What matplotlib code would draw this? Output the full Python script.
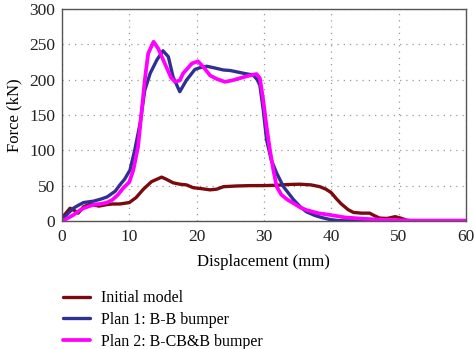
import matplotlib
matplotlib.use('Agg')
import matplotlib.pyplot as plt

# ---- 读图数据 (位移 mm, 力 kN) ----
init_x = [0, 0.5, 1.2, 1.8, 2.4, 3.2, 4, 4.5, 5.5, 6.6, 7.5, 8.6, 10, 11,
          12.1, 13.3, 14.8, 15.5, 16.5, 17.5, 18.5, 19.5, 20.5, 22, 23, 24,
          26, 28, 30, 32, 33.5, 35.3, 37, 38.3, 39.2, 40, 40.8, 41.5, 42.5,
          43.3, 44.5, 45.7, 46.5, 47.2, 48.3, 49.5, 50.3, 51.2, 52, 60]
init_f = [4, 10, 18, 15, 11, 20, 23, 23, 21, 23, 24, 24, 26, 33,
          45, 55.6, 62, 59, 54, 52, 51, 47, 46, 44, 45, 48.5,
          49.5, 50, 50, 50.5, 51.5, 52, 51, 48.5, 45, 40, 31, 24, 16,
          12, 11, 11, 7, 4, 3.5, 6, 4, 1, 0, 0]

plan1_x = [0, 0.5, 1.7, 2.4, 3.2, 4.7, 5.8, 6.7, 7.9, 8.6, 9.3, 10.1, 10.8,
           11.6, 12.3, 13.1, 14.1, 15.0, 15.8, 16.5, 17.5, 18.5, 19.75, 20.5,
           21.5, 22.5, 24, 25, 26, 27, 28.4, 29, 29.4, 29.9, 30.4, 31.1, 31.9,
           32.9, 34.4, 35.4, 36.3, 37.5, 38.5, 39.8, 41, 42, 60]
plan1_f = [3, 7, 18, 22, 26, 28, 31, 34, 42, 51, 59, 72, 100,
           138, 185, 209, 228, 241, 232.5, 204, 183, 199.5, 214.6, 217,
           219, 217, 213.7, 213, 211, 209, 206.6, 200, 192, 157, 114.6, 86, 67.5,
           48.5, 30, 20, 13, 8, 5, 2, 0.5, 0.2, 0]

plan2_x = [0, 0.5, 1.7, 2.5, 3.2, 4.7, 5.7, 6.7, 7.5, 8.3, 9.1, 10, 10.6,
           11.3, 11.8, 12.3, 12.8, 13.6, 14.3, 15.5, 16.2, 16.8, 17.5, 18.0,
           19.3, 20.2, 21, 22, 23, 24.2, 25.3, 26.4, 27.5, 28.9, 29.4, 29.9,
           30.4, 30.9, 31.4, 31.9, 32.6, 33.5, 34.4, 35.4, 36.3, 38, 39.8, 42,
           44.8, 47, 50, 52, 60]
plan2_f = [0, 2, 8.5, 14, 18, 23, 24, 26, 30, 37, 46.5, 55, 72,
           105, 152, 199.5, 237, 253.7, 244, 218, 203, 197, 199, 209,
           223, 226, 218, 206, 201, 197, 199, 202, 205, 208, 202, 171,
           133, 100, 72, 48.5, 37, 30, 25, 19, 15.5, 11, 8.5, 5,
           3, 2, 1, 0.5, 0.5]

X_TICKS = [0, 10, 20, 30, 40, 50, 60]
Y_TICKS = [0, 50, 100, 150, 200, 250, 300]

plt.rcParams['font.family'] = ['Liberation Serif', 'DejaVu Serif']
plt.rcParams['font.size'] = 12.5

fig = plt.figure(figsize=(4.74, 3.49), dpi=100)
ax = fig.add_axes([0.1308, 0.367, 0.852, 0.607])

ax.plot(init_x, init_f, color='#7a0a0e', lw=2.4, solid_joinstyle='round',
        solid_capstyle='round', label='Initial model')
ax.plot(plan1_x, plan1_f, color='#2e3192', lw=2.4, solid_joinstyle='round',
        solid_capstyle='round', label='Plan 1: B-B bumper')
ax.plot(plan2_x, plan2_f, color='#ff00ff', lw=2.7, solid_joinstyle='round',
        solid_capstyle='round', label='Plan 2: B-CB&B bumper')

ax.set_xlim(0, 60)
ax.set_ylim(0, 300)
ax.set_xticks(X_TICKS)
ax.set_yticks(Y_TICKS)
ax.tick_params(length=0, colors='#222')
ax.tick_params(axis='x', pad=6)
ax.tick_params(axis='y', pad=5)
ax.grid(True, color='#999', linestyle=(0, (1, 4)), linewidth=0.9)
for s in ax.spines.values():
    s.set_color('#555')
    s.set_linewidth(1.0)

ax.set_xlabel('Displacement (mm)', fontsize=12, labelpad=6)
ax.set_ylabel('Force (kN)', fontsize=12, labelpad=5)

handles, labels = ax.get_legend_handles_labels()
fig.legend(handles, labels, loc='upper left', bbox_to_anchor=(0.132, 0.168),
           frameon=False, fontsize=11.5, handlelength=1.7, handletextpad=0.7,
           labelspacing=0.35, borderaxespad=0, borderpad=0)

fig.savefig('out.png', dpi=100)
